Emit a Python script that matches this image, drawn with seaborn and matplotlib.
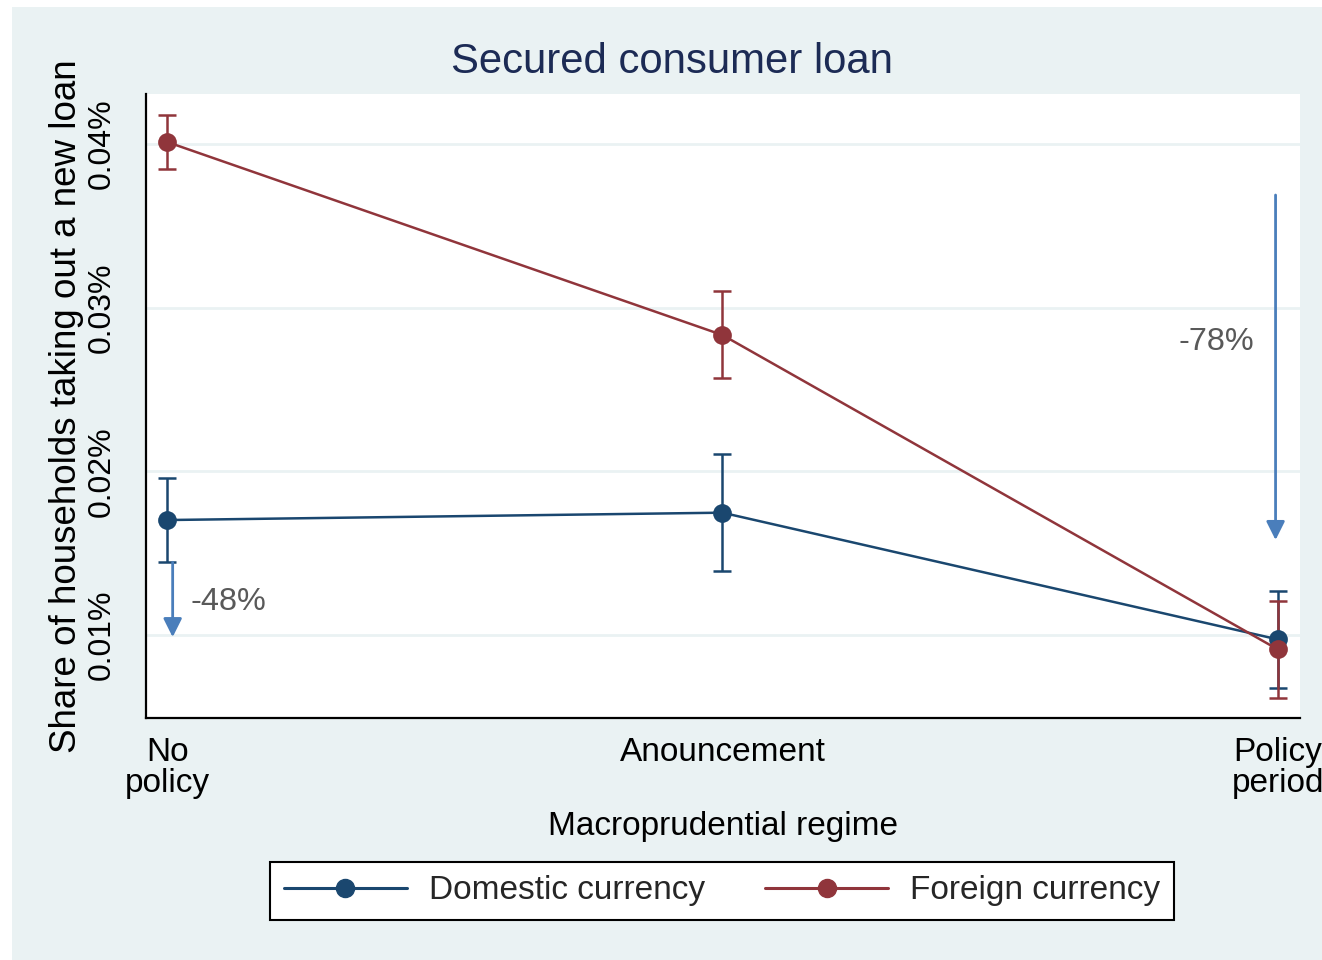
import numpy as np
import pandas as pd
import matplotlib
matplotlib.use("Agg")
import matplotlib.pyplot as plt
from matplotlib.lines import Line2D
from matplotlib.patches import Rectangle
import seaborn as sns

# Regimes on the x axis
regimes = ["No\npolicy", "Anouncement", "Policy\nperiod"]
positions = [0, 1, 2]

# Share of households taking out a new loan (in percent)
domestic_mean = [0.01703, 0.01748, 0.00974]
domestic_lo = [0.01445, 0.01392, 0.00675]
domestic_hi = [0.01962, 0.02104, 0.01269]

foreign_mean = [0.04012, 0.02833, 0.00913]
foreign_lo = [0.03847, 0.02572, 0.00618]
foreign_hi = [0.04177, 0.03102, 0.01210]

series_names = ["Domestic currency", "Foreign currency"]

# Change annotations: arrow x, start, end and label
change_x = [0.01, 1.996]
change_start = [0.01445, 0.03688]
change_end = [0.00988, 0.01581]
change_labels = ["-48%", "-78%"]
change_label_x = [0.11, 1.889]
change_label_y = [0.0120, 0.0279]

y_ticks = [0.01, 0.02, 0.03, 0.04]
y_ticklabels = ["0.01%", "0.02%", "0.03%", "0.04%"]

NAVY = "#1a476f"
MAROON = "#90353b"
BG = "#eaf2f3"
ARROW = "#4a7ebb"
TITLE = "#1c2b55"

sns.set_theme(style="white")
plt.rcParams["font.family"] = ["Liberation Sans", "DejaVu Sans"]

W, H = 1322, 960
fig = plt.figure(figsize=(W / 100, H / 100), dpi=100)
fig.patch.set_facecolor("white")
fig.patches.append(Rectangle((12 / W, 0), 1 - 12 / W, 1 - 7 / H,
                             transform=fig.transFigure, facecolor=BG,
                             edgecolor="none", zorder=-10))

ax = fig.add_axes([146 / W, (H - 718) / H, (1300 - 146) / W, (718 - 94) / H])
ax.set_facecolor("white")

df = pd.DataFrame({
    "pos": positions * 2,
    "share": domestic_mean + foreign_mean,
    "currency": [series_names[0]] * 3 + [series_names[1]] * 3,
})

for name, col, mean, lo, hi in [
    (series_names[0], NAVY, domestic_mean, domestic_lo, domestic_hi),
    (series_names[1], MAROON, foreign_mean, foreign_lo, foreign_hi),
]:
    mean = np.array(mean)
    yerr = np.vstack([mean - np.array(lo), np.array(hi) - mean])
    ax.errorbar(positions, mean, yerr=yerr, fmt="none", ecolor=col,
                elinewidth=1.8, capsize=6.5, capthick=1.8, zorder=3)
    sns.lineplot(data=df[df["currency"] == name], x="pos", y="share",
                 color=col, marker="o", markersize=13.5, markeredgewidth=0,
                 linewidth=1.8, ax=ax, legend=False, zorder=4)

for x0, y0, y1, lab, lx, ly in zip(change_x, change_start, change_end,
                                   change_labels, change_label_x, change_label_y):
    ax.annotate("", xy=(x0, y1), xytext=(x0, y0),
                arrowprops=dict(arrowstyle="-|>", color=ARROW, lw=2,
                                mutation_scale=28, shrinkA=0, shrinkB=0),
                zorder=5)
    ax.text(lx, ly, lab, color="#595959", fontsize=23.3, ha="center", va="center")

ax.set_xlim(-0.038, 2.04)
ax.set_ylim(0.00494, 0.04305)
ax.set_xticks(positions)
ax.set_xticklabels(regimes, fontsize=24, linespacing=1.0)
ax.set_yticks(y_ticks)
ax.set_yticklabels(y_ticklabels, fontsize=23, rotation=90, va="center")
ax.yaxis.grid(True, color=BG, lw=2)
ax.xaxis.grid(False)
for s in ["top", "right"]:
    ax.spines[s].set_visible(False)
for s in ["left", "bottom"]:
    ax.spines[s].set_color("black")
    ax.spines[s].set_linewidth(1.6)
ax.tick_params(axis="both", which="major", direction="out", length=9,
               width=1.2, color="black", labelcolor="black")
ax.tick_params(axis="y", pad=12)
ax.tick_params(axis="x", pad=5)
ax.set_xlabel("Macroprudential regime", fontsize=24, labelpad=8, color="black")
ax.set_ylabel("Share of households taking out a new loan", fontsize=26.5,
              labelpad=2, color="black")

fig.text(672 / W, 1 - 73 / H, "Secured consumer loan", fontsize=30.2,
         color=TITLE, ha="center", va="baseline")

handles = [Line2D([], [], color=NAVY, lw=2.2, marker="o", markersize=13),
           Line2D([], [], color=MAROON, lw=2.2, marker="o", markersize=13)]
leg = fig.legend(handles, series_names, loc="center",
                 bbox_to_anchor=(722 / W, 1 - 891 / H), ncol=2, fontsize=24,
                 frameon=True, fancybox=False, edgecolor="black", framealpha=1,
                 handlelength=3.7, handletextpad=0.66, columnspacing=1.8,
                 borderpad=0.4)
leg.get_frame().set_linewidth(1.5)
leg.get_frame().set_facecolor("white")

fig.savefig("out.png", dpi=100, facecolor=fig.get_facecolor())
